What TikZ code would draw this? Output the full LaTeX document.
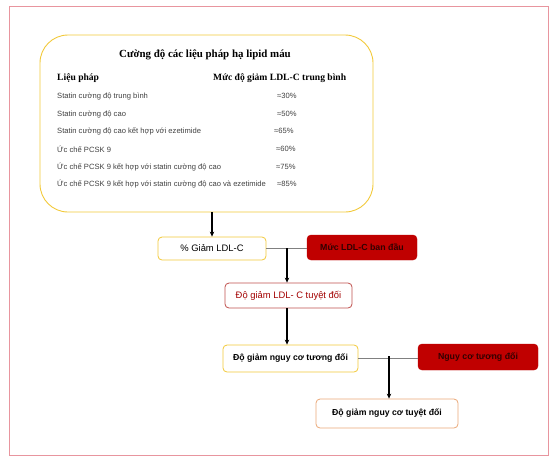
\documentclass[tikz,border=0pt]{standalone}
\usepackage{fontspec}
\setmainfont{Liberation Sans}
\newfontfamily\serifhead{Liberation Serif}
\usepackage{tikz}
\usetikzlibrary{arrows.meta}

\definecolor{framepink}{HTML}{E8959E}
\definecolor{boxgold}{HTML}{F2C93A}
\definecolor{boxred}{HTML}{C00000}
\definecolor{linered}{HTML}{C0504D}
\definecolor{boxorange}{HTML}{EBA878}
\definecolor{rowgrey}{HTML}{404040}

\tikzset{
  tablebox/.style={draw=boxgold, line width=0.9pt, rounded corners=28pt,
    minimum width=333pt, minimum height=177pt},
  stepbox/.style={draw=#1, line width=0.8pt, fill=white, rounded corners=4pt,
    font=\fontsize{9.4}{11}\selectfont},
  boldstep/.style={stepbox=#1, font=\bfseries\fontsize{8.7}{10}\selectfont},
  redbox/.style={draw=boxred, fill=boxred, rounded corners=4pt,
    text=black!80!red, font=\bfseries\fontsize{8.8}{10}\selectfont},
  rowtext/.style={anchor=west, inner sep=0pt, text=rowgrey,
    font=\fontsize{7.6}{9}\selectfont},
  headtext/.style={anchor=west, inner sep=0pt,
    font=\serifhead\bfseries\fontsize{9.6}{11}\selectfont},
  arrowline/.style={-{Stealth[length=5pt,width=4.5pt]}, line width=1.1pt},
  joinline/.style={draw=gray, line width=0.6pt}
}

\begin{document}
\begin{tikzpicture}[x=1pt,y=-1pt]
\useasboundingbox (0,0) rectangle (555,467);
\draw[framepink, line width=0.8pt] (9,6) rectangle (548,455);

% bang cuong do
\node[tablebox] (table) at (206.5,123.5) {};
\node[inner sep=0pt, font=\serifhead\bfseries\fontsize{10.9}{13}\selectfont] (title) at (205,55) {Cường độ các liệu pháp hạ lipid máu};
\node[headtext] (hdrleft) at (57,78) {Liệu pháp};
\node[headtext] (hdrright) at (213,78) {Mức độ giảm LDL-C trung bình};
\node[rowtext] (row1) at (57,96) {Statin cường độ trung bình};
\node[rowtext] (row2) at (57,114) {Statin cường độ cao};
\node[rowtext] (row3) at (57,131) {Statin cường độ cao kết hợp với ezetimide};
\node[rowtext] (row4) at (57,149) {Ức chế PCSK 9};
\node[rowtext] (row5) at (57,167) {Ức chế PCSK 9 kết hợp với statin cường độ cao};
\node[rowtext] (row6) at (57,184) {Ức chế PCSK 9 kết hợp với statin cường độ cao và ezetimide};
\node[rowtext] (val1) at (277,96) {≈30\%};
\node[rowtext] (val2) at (277,114) {≈50\%};
\node[rowtext] (val3) at (274,131) {≈65\%};
\node[rowtext] (val4) at (276,149) {≈60\%};
\node[rowtext] (val5) at (276,167) {≈75\%};
\node[rowtext] (val6) at (277,184) {≈85\%};

% so do
\node[stepbox=boxgold, minimum width=108pt, minimum height=23pt] (pct) at (212,248.5) {\% Giảm LDL-C};
\node[redbox, minimum width=110pt, minimum height=25pt] (base) at (362,247.5) {Mức LDL-C ban đầu};
\node[stepbox=linered, text=boxred!85!black, minimum width=127pt, minimum height=25pt] (absldl) at (288.5,295.5) {Độ giảm LDL- C tuyệt đối};
\node[boldstep=boxgold, minimum width=135pt, minimum height=27pt] (rrr) at (290.5,358.5) {Độ giảm nguy cơ tương đối};
\node[redbox, minimum width=120pt, minimum height=26pt] (rr) at (478,357) {Nguy cơ tương đối};
\node[boldstep=boxorange, minimum width=142pt, minimum height=29pt] (arr) at (387,413.5) {Độ giảm nguy cơ tuyệt đối};

\coordinate (j1) at (287,248);
\coordinate (j2) at (389,356);

\draw[arrowline] (pct.north |- table.south) -- (pct.north);
\draw[joinline] (pct.east) -- (pct.east -| base.west);
\draw[arrowline] (j1) -- (j1 |- absldl.north);
\draw[arrowline] (j1 |- absldl.south) -- (j1 |- rrr.north);
\draw[joinline] (rrr.east) -- (rrr.east -| rr.west);
\draw[arrowline] (j2) -- (j2 |- arr.north);
\end{tikzpicture}
\end{document}
